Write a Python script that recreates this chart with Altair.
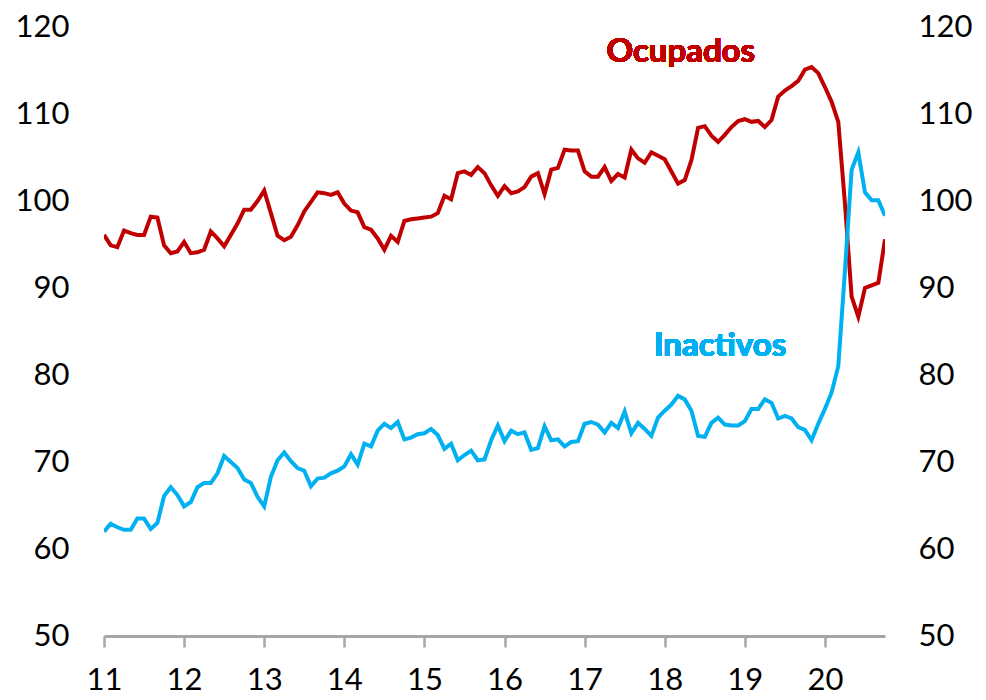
import altair as alt
import pandas as pd

# Monthly index values, Jan 2011 .. Oct 2020
ocupados = [96.1, 94.9, 94.7, 96.6, 96.3, 96.1, 96.1, 98.2, 98.1, 94.9,
            94.0, 94.2, 95.3, 94.0, 94.1, 94.4, 96.5, 95.7, 94.8, 96.1,
            97.4, 99.0, 99.0, 100.0, 101.2, 98.6, 96.0, 95.5, 95.9, 97.2,
            98.8, 99.9, 101.0, 100.9, 100.7, 101.0, 99.7, 98.9, 98.7, 97.0,
            96.7, 95.7, 94.4, 96.0, 95.3, 97.7, 97.9, 98.0, 98.1, 98.2,
            98.6, 100.6, 100.2, 103.2, 103.4, 103.0, 103.9, 103.2, 101.8, 100.6,
            101.7, 100.9, 101.1, 101.6, 102.8, 103.2, 100.8, 103.6, 103.8, 105.9,
            105.8, 105.8, 103.4, 102.8, 102.8, 103.9, 102.3, 103.1, 102.7, 105.9,
            104.9, 104.4, 105.6, 105.2, 104.8, 103.4, 102.0, 102.4, 104.7, 108.4,
            108.6, 107.5, 106.8, 107.6, 108.5, 109.2, 109.4, 109.1, 109.2, 108.5,
            109.3, 112.0, 112.7, 113.2, 113.8, 115.1, 115.4, 114.7, 113.1, 111.4,
            109.1, 99.7, 89.0, 86.7, 90.0, 90.3, 90.6, 95.6]

inactivos = [62.0, 62.9, 62.5, 62.2, 62.2, 63.5, 63.5, 62.3, 63.0, 66.1,
             67.1, 66.2, 64.9, 65.4, 67.1, 67.6, 67.6, 68.7, 70.7, 70.0,
             69.3, 68.0, 67.6, 66.0, 64.9, 68.3, 70.2, 71.1, 70.1, 69.3,
             69.0, 67.2, 68.1, 68.2, 68.7, 69.0, 69.5, 70.9, 69.7, 72.1,
             71.8, 73.6, 74.4, 73.9, 74.6, 72.6, 72.8, 73.2, 73.3, 73.8,
             73.1, 71.5, 72.1, 70.2, 70.8, 71.3, 70.2, 70.3, 72.5, 74.2,
             72.4, 73.6, 73.2, 73.4, 71.4, 71.6, 74.1, 72.5, 72.6, 71.8,
             72.3, 72.4, 74.4, 74.6, 74.3, 73.4, 74.5, 73.9, 75.8, 73.3,
             74.5, 73.8, 73.0, 75.1, 75.9, 76.6, 77.6, 77.2, 75.9, 73.0,
             72.9, 74.5, 75.1, 74.3, 74.2, 74.2, 74.7, 76.1, 76.1, 77.2,
             76.8, 75.0, 75.3, 75.0, 74.0, 73.7, 72.5, 74.4, 76.1, 78.0,
             81.0, 92.0, 103.6, 105.6, 101.0, 100.1, 100.1, 98.3]

year_ticks = [11, 12, 13, 14, 15, 16, 17, 18, 19, 20]
y_ticks = [50, 60, 70, 80, 90, 100, 110, 120]

RED = "#C00000"
BLUE = "#00B0F0"
FONT = "Lato"

t = [11 + i / 12 for i in range(len(ocupados))]
df = pd.DataFrame({"t": t, "ocupados": ocupados, "inactivos": inactivos})

xscale = alt.Scale(domain=[11, 20.75], nice=False, zero=False)
yscale = alt.Scale(domain=[50, 120], nice=False, zero=False)

xaxis = alt.Axis(values=year_ticks, title=None, grid=False, format="d",
                 domainColor="#A6A6A6", domainWidth=3, tickColor="#A6A6A6",
                 tickWidth=2.5, tickSize=11, labelFontSize=31, labelFont=FONT,
                 labelColor="#000000", labelPadding=18, labelFlush=False)

yleft = alt.Axis(values=y_ticks, title=None, grid=False, domain=False, ticks=False,
                 labelFontSize=31, labelFont=FONT, labelColor="#000000",
                 labelPadding=35, orient="left")
yright = alt.Axis(values=y_ticks, title=None, grid=False, domain=False, ticks=False,
                  labelFontSize=31, labelFont=FONT, labelColor="#000000",
                  labelPadding=33, orient="right")

base = alt.Chart(df)

red_line = base.mark_line(color=RED, strokeWidth=4, clip=True).encode(
    x=alt.X("t:Q", scale=xscale, axis=xaxis),
    y=alt.Y("ocupados:Q", scale=yscale, axis=yleft),
)

blue_line = base.mark_line(color=BLUE, strokeWidth=4, clip=True).encode(
    x=alt.X("t:Q", scale=xscale, axis=xaxis),
    y=alt.Y("inactivos:Q", scale=yscale, axis=yright),
)

lab_ocu = alt.Chart(df).mark_text(
    text="Ocupados", color=RED, font=FONT, fontSize=33, fontWeight="bold",
    align="center", baseline="alphabetic"
).encode(x=alt.datum(18.2), y=alt.datum(116.0))

lab_ina = alt.Chart(df).mark_text(
    text="Inactivos", color=BLUE, font=FONT, fontSize=33, fontWeight="bold",
    align="center", baseline="alphabetic"
).encode(x=alt.datum(18.69), y=alt.datum(82.2))

chart = alt.layer(
    alt.layer(red_line, lab_ocu),
    alt.layer(blue_line, lab_ina),
).resolve_scale(y="independent").resolve_axis(y="independent").properties(
    width=781, height=609,
    autosize=alt.AutoSizeParams(type="none"),
    padding={"left": 96, "top": 19, "right": 93, "bottom": 62},
    background="white",
).configure_view(strokeWidth=0, stroke="transparent")

chart.save("out.html", embed_options={"renderer": "svg", "actions": False})
